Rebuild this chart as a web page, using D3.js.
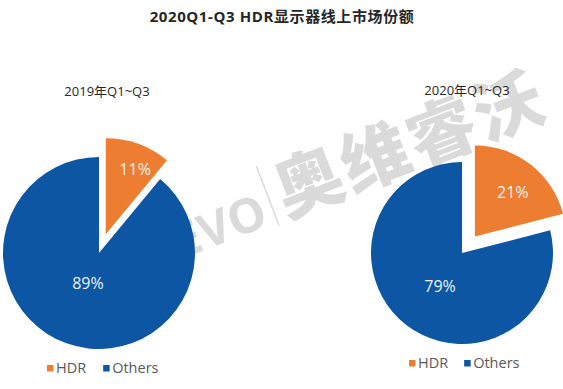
<!DOCTYPE html>
<html>
<head>
<meta charset="utf-8">
<script src="https://cdn.jsdelivr.net/npm/d3@7"></script>
<style>
  html, body { margin: 0; padding: 0; background: #fff; }
  svg { display: block; }
</style>
</head>
<body>
<svg id="chart" width="563" height="389"></svg>
<script>
// ---- data ----
const title = "2020Q1-Q3 HDR显示器线上市场份额";
const categories = ["HDR", "Others"];
const periods = ["2019年Q1~Q3", "2020年Q1~Q3"];
const values2019 = [11, 89];
const values2020 = [21, 79];
const seriesValues = [values2019, values2020];

// ---- styles / layout ----
const colors = ["#ED7D31", "#0C56A3"];
const W = 563, H = 389;
const font = "'Open Sans', 'Noto Sans CJK SC', sans-serif";
const layouts = [
  { cx: 99, cy: 253, r: 96, explode: 20, titleX: 107, titleY: 96,
    labelK: [0.74, 0.34], labelRot: [0.08, 0], legendX: 47, legendY: 368, gap: 17 },
  { cx: 462, cy: 253, r: 91, explode: 21, titleX: 467, titleY: 95,
    labelK: [0.64, 0.44], labelRot: [0.05, -0.08], legendX: 409, legendY: 363, gap: 16 }
];

const svg = d3.select("#chart");
svg.append("rect").attr("width", W).attr("height", H).attr("fill", "#fff");

// watermark (behind the chart)
const wm = svg.append("g")
  .attr("transform", "translate(278,222) rotate(-21)")
  .attr("fill", "#dadada")
  .attr("font-family", font).attr("font-weight", "bold");
wm.append("text").attr("x", -8).attr("y", 0).attr("text-anchor", "end")
  .attr("font-size", 48).text("AVC REVO");
wm.append("rect").attr("x", -1).attr("y", -60).attr("width", 1.5).attr("height", 64);
wm.append("text").attr("x", 9).attr("y", -1).attr("text-anchor", "start")
  .attr("font-size", 68).attr("font-weight", 900).attr("letter-spacing", 3)
  .attr("font-family", "'Noto Sans CJK SC', sans-serif")
  .text("奥维睿沃");

svg.append("text")
  .attr("x", 282).attr("y", 22)
  .attr("text-anchor", "middle")
  .attr("font-family", font)
  .attr("font-weight", "bold")
  .attr("font-size", 15)
  .attr("letter-spacing", 0.6)
  .attr("fill", "#262626")
  .text(title);

const pie = d3.pie().sort(null).value(d => d);

seriesValues.forEach((vals, i) => {
  const L = layouts[i];
  const arc = d3.arc().innerRadius(0).outerRadius(L.r);
  const arcs = pie(vals);
  const g = svg.append("g").attr("transform", `translate(${L.cx},${L.cy})`);

  arcs.forEach((a, j) => {
    const mid = (a.startAngle + a.endAngle) / 2;
    const off = j === 0 ? L.explode : 0;
    const ox = Math.sin(mid) * off, oy = -Math.cos(mid) * off;
    const sg = g.append("g").attr("transform", `translate(${ox},${oy})`);
    sg.append("path").attr("d", arc(a)).attr("fill", colors[j]);
    const k = L.labelK[j] * L.r;
    const la = mid + L.labelRot[j];
    sg.append("text")
      .attr("x", Math.sin(la) * k)
      .attr("y", -Math.cos(la) * k)
      .attr("dy", "0.35em")
      .attr("text-anchor", "middle")
      .attr("font-family", font)
      .attr("font-size", 16)
      .attr("fill", "#eef3f8")
      .text(vals[j] + "%");
  });

  svg.append("text")
    .attr("x", L.titleX).attr("y", L.titleY)
    .attr("text-anchor", "middle")
    .attr("font-family", font)
    .attr("font-size", 13)
    .attr("fill", "#262626")
    .text(periods[i]);

  // legend
  const lg = svg.append("g").attr("transform", `translate(${L.legendX},${L.legendY})`);
  let x = 0;
  categories.forEach((c, j) => {
    lg.append("rect").attr("x", x).attr("y", -3).attr("width", 6.5).attr("height", 6.5)
      .attr("fill", colors[j]);
    const t = lg.append("text")
      .attr("x", x + 9).attr("y", 0).attr("dy", "0.36em")
      .attr("font-family", font).attr("font-size", 14.5)
      .attr("fill", "#595959").text(c);
    x += 9 + t.node().getComputedTextLength() + L.gap;
  });
});
</script>
</body>
</html>
